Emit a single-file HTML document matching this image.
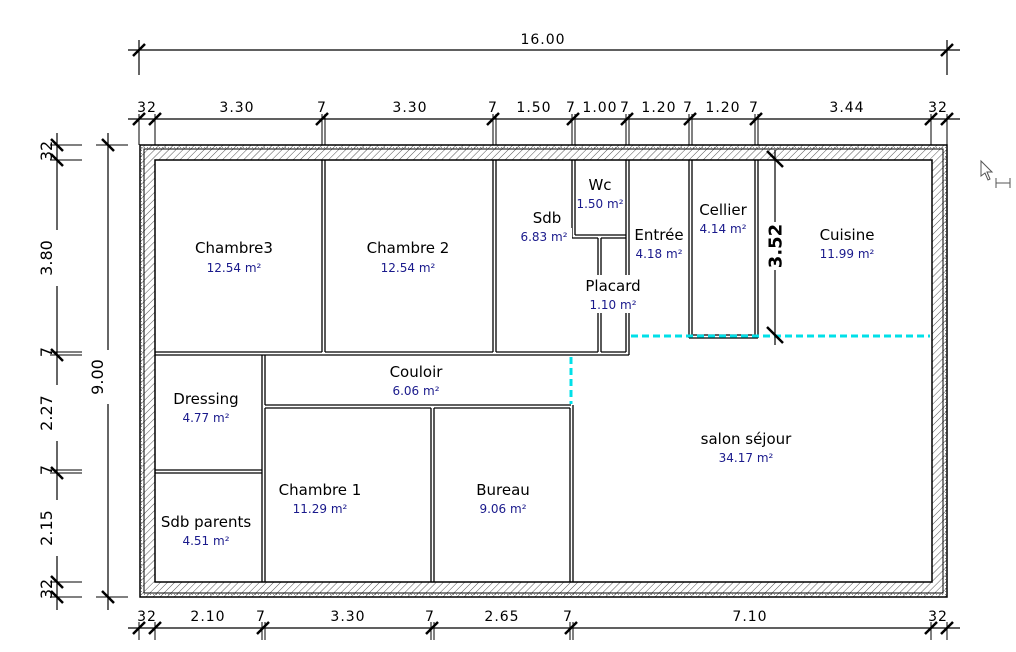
<!DOCTYPE html>
<html><head><meta charset="utf-8"><style>
html,body{margin:0;padding:0;background:#fff;}
svg{display:block;}
text{font-family:"DejaVu Sans","Liberation Sans",sans-serif;}
.n{font-size:15px;fill:#000;text-anchor:middle;}
.a{font-size:12px;fill:#1a1a8c;text-anchor:middle;}
.d{font-family:"DejaVu Sans","Liberation Sans",sans-serif;font-size:14px;fill:#000;text-anchor:middle;letter-spacing:1px;}
.v{font-family:"DejaVu Sans","Liberation Sans",sans-serif;font-size:16px;fill:#000;text-anchor:middle;}
</style></head><body>
<svg width="1016" height="652" viewBox="0 0 1016 652" xmlns="http://www.w3.org/2000/svg">
<defs>
<pattern id="h" width="5" height="5" patternUnits="userSpaceOnUse" patternTransform="rotate(45)">
<line x1="0" y1="0" x2="0" y2="5" stroke="#555" stroke-width="1"/>
</pattern>
<pattern id="dt" width="3" height="3" patternUnits="userSpaceOnUse">
<rect x="0" y="0" width="1" height="1" fill="#888"/>
</pattern>
</defs>
<rect width="1016" height="652" fill="#fff"/>

<path d="M140,145 H947 V597 H140 Z M155,160 V582 H932 V160 Z" fill="url(#h)" fill-rule="evenodd"/>
<path d="M140,145 H947 V597 H140 Z M144,149 V593 H943 V149 Z" fill="url(#dt)" fill-rule="evenodd"/>
<rect x="140" y="145" width="807" height="452" fill="none" stroke="#000" stroke-width="1.5"/>
<rect x="144" y="149" width="799" height="444" fill="none" stroke="#000" stroke-width="1"/>
<rect x="155" y="160" width="777" height="422" fill="none" stroke="#000" stroke-width="1.5"/>

<g stroke="#000" stroke-width="1.3" fill="none">
<line x1="322" y1="160" x2="322" y2="352"/><line x1="325" y1="160" x2="325" y2="352"/>
<line x1="493" y1="160" x2="493" y2="352"/><line x1="496" y1="160" x2="496" y2="352"/>
<line x1="572" y1="160" x2="572" y2="238"/><line x1="575" y1="160" x2="575" y2="235"/>
<line x1="575" y1="235" x2="626" y2="235"/><line x1="572" y1="238" x2="598" y2="238"/><line x1="601" y1="238" x2="626" y2="238"/>
<line x1="626" y1="160" x2="626" y2="352"/><line x1="629" y1="160" x2="629" y2="355"/>
<line x1="598" y1="238" x2="598" y2="352"/><line x1="601" y1="238" x2="601" y2="352"/>
<line x1="155" y1="352" x2="322" y2="352"/><line x1="325" y1="352" x2="493" y2="352"/><line x1="496" y1="352" x2="598" y2="352"/><line x1="601" y1="352" x2="626" y2="352"/>
<line x1="155" y1="355" x2="629" y2="355"/>
<line x1="689" y1="160" x2="689" y2="338"/><line x1="692" y1="160" x2="692" y2="335"/>
<line x1="755" y1="160" x2="755" y2="335"/><line x1="758" y1="160" x2="758" y2="338"/>
<line x1="692" y1="335" x2="755" y2="335"/><line x1="689" y1="338" x2="758" y2="338"/>
<line x1="262" y1="355" x2="262" y2="582"/><line x1="265" y1="355" x2="265" y2="405"/><line x1="265" y1="408" x2="265" y2="582"/>
<line x1="155" y1="470" x2="262" y2="470"/><line x1="155" y1="473" x2="262" y2="473"/>
<line x1="265" y1="405" x2="571" y2="405"/><line x1="265" y1="408" x2="431" y2="408"/><line x1="434" y1="408" x2="570" y2="408"/>
<line x1="431" y1="408" x2="431" y2="582"/><line x1="434" y1="408" x2="434" y2="582"/>
<line x1="570" y1="408" x2="570" y2="582"/><line x1="573" y1="405" x2="573" y2="582"/>
</g>
<g stroke="#00e0e8" stroke-width="3" stroke-dasharray="7,4" fill="none">
<line x1="631" y1="336" x2="930" y2="336"/>
<line x1="571" y1="357" x2="571" y2="404"/>
</g>
<g stroke="#000" stroke-width="1.2">
<line x1="775" y1="150" x2="775" y2="345"/>
<line x1="767" y1="151" x2="783" y2="167" stroke-width="2.5"/>
<line x1="767" y1="327" x2="783" y2="343" stroke-width="2.5"/>
</g>
<rect x="764" y="222" width="20" height="48" fill="#fff"/>
<text transform="translate(776,246) rotate(-90)" font-size="18" font-weight="bold" text-anchor="middle" dominant-baseline="central">3.52</text>

<!-- label backgrounds -->
<rect x="583" y="275" width="60" height="38" fill="#fff"/>
<rect x="576" y="196" width="48" height="14" fill="#fff"/>
<rect x="520" y="228" width="52" height="16" fill="#fff"/>
<rect x="631" y="244" width="54" height="16" fill="#fff"/>
<rect x="696" y="220" width="55" height="16" fill="#fff"/>

<text class="n" x="234" y="253">Chambre3</text><text class="a" x="234" y="272">12.54 m²</text>
<text class="n" x="408" y="253">Chambre 2</text><text class="a" x="408" y="272">12.54 m²</text>
<text class="n" x="547" y="223">Sdb</text><text class="a" x="544" y="241">6.83 m²</text>
<text class="n" x="600" y="190">Wc</text><text class="a" x="600" y="208">1.50 m²</text>
<text class="n" x="659" y="240">Entrée</text><text class="a" x="659" y="258">4.18 m²</text>
<text class="n" x="613" y="291">Placard</text><text class="a" x="613" y="309">1.10 m²</text>
<text class="n" x="723" y="215">Cellier</text><text class="a" x="723" y="233">4.14 m²</text>
<text class="n" x="847" y="240">Cuisine</text><text class="a" x="847" y="258">11.99 m²</text>
<text class="n" x="416" y="377">Couloir</text><text class="a" x="416" y="395">6.06 m²</text>
<text class="n" x="206" y="404">Dressing</text><text class="a" x="206" y="422">4.77 m²</text>
<text class="n" x="746" y="444">salon séjour</text><text class="a" x="746" y="462">34.17 m²</text>
<text class="n" x="320" y="495">Chambre 1</text><text class="a" x="320" y="513">11.29 m²</text>
<text class="n" x="503" y="495">Bureau</text><text class="a" x="503" y="513">9.06 m²</text>
<text class="n" x="206" y="527">Sdb parents</text><text class="a" x="206" y="545">4.51 m²</text>

<g stroke="#000" stroke-width="1.2">
<line x1="128" y1="50" x2="960" y2="50"/>
<line x1="139" y1="40" x2="139" y2="75"/><line x1="947" y1="40" x2="947" y2="75"/>
<line x1="133" y1="56" x2="145" y2="44" stroke-width="2.5"/><line x1="941" y1="56" x2="953" y2="44" stroke-width="2.5"/>
<line x1="128" y1="119" x2="960" y2="119"/>
<g stroke-width="1">
<line x1="139" y1="114" x2="139" y2="145"/><line x1="155" y1="114" x2="155" y2="145"/>
<line x1="322" y1="114" x2="322" y2="145"/><line x1="325" y1="114" x2="325" y2="145"/>
<line x1="493" y1="114" x2="493" y2="145"/><line x1="496" y1="114" x2="496" y2="145"/>
<line x1="572" y1="114" x2="572" y2="145"/><line x1="575" y1="114" x2="575" y2="145"/>
<line x1="626" y1="114" x2="626" y2="145"/><line x1="629" y1="114" x2="629" y2="145"/>
<line x1="689" y1="114" x2="689" y2="145"/><line x1="692" y1="114" x2="692" y2="145"/>
<line x1="755" y1="114" x2="755" y2="145"/><line x1="758" y1="114" x2="758" y2="145"/>
<line x1="931" y1="114" x2="931" y2="145"/><line x1="947" y1="114" x2="947" y2="145"/>
</g>
<g stroke-width="2.5">
<line x1="133" y1="125" x2="145" y2="113"/><line x1="149" y1="125" x2="161" y2="113"/>
<line x1="316" y1="125" x2="328" y2="113"/><line x1="487" y1="125" x2="499" y2="113"/>
<line x1="567" y1="125" x2="579" y2="113"/><line x1="621" y1="125" x2="633" y2="113"/>
<line x1="684" y1="125" x2="696" y2="113"/><line x1="750" y1="125" x2="762" y2="113"/>
<line x1="925" y1="125" x2="937" y2="113"/><line x1="941" y1="125" x2="953" y2="113"/>
</g>
<line x1="128" y1="628" x2="960" y2="628"/>
<g stroke-width="1">
<line x1="139" y1="622" x2="139" y2="640"/><line x1="155" y1="622" x2="155" y2="640"/>
<line x1="262" y1="622" x2="262" y2="640"/><line x1="265" y1="622" x2="265" y2="640"/>
<line x1="431" y1="622" x2="431" y2="640"/><line x1="434" y1="622" x2="434" y2="640"/>
<line x1="570" y1="622" x2="570" y2="640"/><line x1="573" y1="622" x2="573" y2="640"/>
<line x1="931" y1="622" x2="931" y2="640"/><line x1="947" y1="622" x2="947" y2="640"/>
</g>
<g stroke-width="2.5">
<line x1="133" y1="634" x2="145" y2="622"/><line x1="149" y1="634" x2="161" y2="622"/>
<line x1="257" y1="634" x2="269" y2="622"/><line x1="426" y1="634" x2="438" y2="622"/>
<line x1="565" y1="634" x2="577" y2="622"/>
<line x1="925" y1="634" x2="937" y2="622"/><line x1="941" y1="634" x2="953" y2="622"/>
</g>
<line x1="57" y1="133" x2="57" y2="610"/>
<g stroke-width="1">
<line x1="50" y1="145" x2="82" y2="145"/><line x1="50" y1="160" x2="82" y2="160"/>
<line x1="50" y1="352" x2="82" y2="352"/><line x1="50" y1="355" x2="82" y2="355"/>
<line x1="50" y1="470" x2="82" y2="470"/><line x1="50" y1="473" x2="82" y2="473"/>
<line x1="50" y1="582" x2="82" y2="582"/><line x1="50" y1="597" x2="82" y2="597"/>
</g>
<g stroke-width="2.5">
<line x1="51" y1="139" x2="63" y2="151"/><line x1="51" y1="154" x2="63" y2="166"/>
<line x1="51" y1="349" x2="63" y2="361"/><line x1="51" y1="467" x2="63" y2="479"/>
<line x1="51" y1="576" x2="63" y2="588"/><line x1="51" y1="591" x2="63" y2="603"/>
</g>
<line x1="108" y1="133" x2="108" y2="610"/>
<line x1="96" y1="145" x2="128" y2="145" stroke-width="1"/><line x1="96" y1="597" x2="128" y2="597" stroke-width="1"/>
<line x1="102" y1="139" x2="114" y2="151" stroke-width="2.5"/><line x1="102" y1="591" x2="114" y2="603" stroke-width="2.5"/>
</g>
<!-- gaps in vertical dim lines for text -->
<rect x="50" y="230" width="14" height="56" fill="#fff"/>
<rect x="50" y="385" width="14" height="56" fill="#fff"/>
<rect x="50" y="500" width="14" height="56" fill="#fff"/>
<rect x="101" y="350" width="14" height="54" fill="#fff"/>

<text class="d" x="543" y="44">16.00</text>
<text class="d" x="147" y="112">32</text>
<text class="d" x="237" y="112">3.30</text>
<text class="d" x="322" y="112">7</text>
<text class="d" x="410" y="112">3.30</text>
<text class="d" x="493" y="112">7</text>
<text class="d" x="534" y="112">1.50</text>
<text class="d" x="571" y="112">7</text>
<text class="d" x="600" y="112">1.00</text>
<text class="d" x="625" y="112">7</text>
<text class="d" x="659" y="112">1.20</text>
<text class="d" x="688" y="112">7</text>
<text class="d" x="723" y="112">1.20</text>
<text class="d" x="754" y="112">7</text>
<text class="d" x="847" y="112">3.44</text>
<text class="d" x="938" y="112">32</text>

<text class="d" x="147" y="621">32</text>
<text class="d" x="208" y="621">2.10</text>
<text class="d" x="261" y="621">7</text>
<text class="d" x="348" y="621">3.30</text>
<text class="d" x="430" y="621">7</text>
<text class="d" x="502" y="621">2.65</text>
<text class="d" x="568" y="621">7</text>
<text class="d" x="750" y="621">7.10</text>
<text class="d" x="938" y="621">32</text>

<text class="v" transform="translate(52,151) rotate(-90)">32</text>
<text class="v" transform="translate(52,258) rotate(-90)">3.80</text>
<text class="v" transform="translate(52,352) rotate(-90)">7</text>
<text class="v" transform="translate(52,413) rotate(-90)">2.27</text>
<text class="v" transform="translate(52,470) rotate(-90)">7</text>
<text class="v" transform="translate(52,528) rotate(-90)">2.15</text>
<text class="v" transform="translate(52,589) rotate(-90)">32</text>
<text class="v" transform="translate(103,377) rotate(-90)">9.00</text>

<path d="M981,161 L981,176 L985,173 L988,180 L990,179 L987,172 L992,172 Z" fill="#fff" stroke="#555" stroke-width="1"/>
<g stroke="#555" stroke-width="1"><line x1="996" y1="178" x2="996" y2="188"/><line x1="1010" y1="178" x2="1010" y2="188"/><line x1="996" y1="183" x2="1010" y2="183"/></g>
</svg>
</body></html>
